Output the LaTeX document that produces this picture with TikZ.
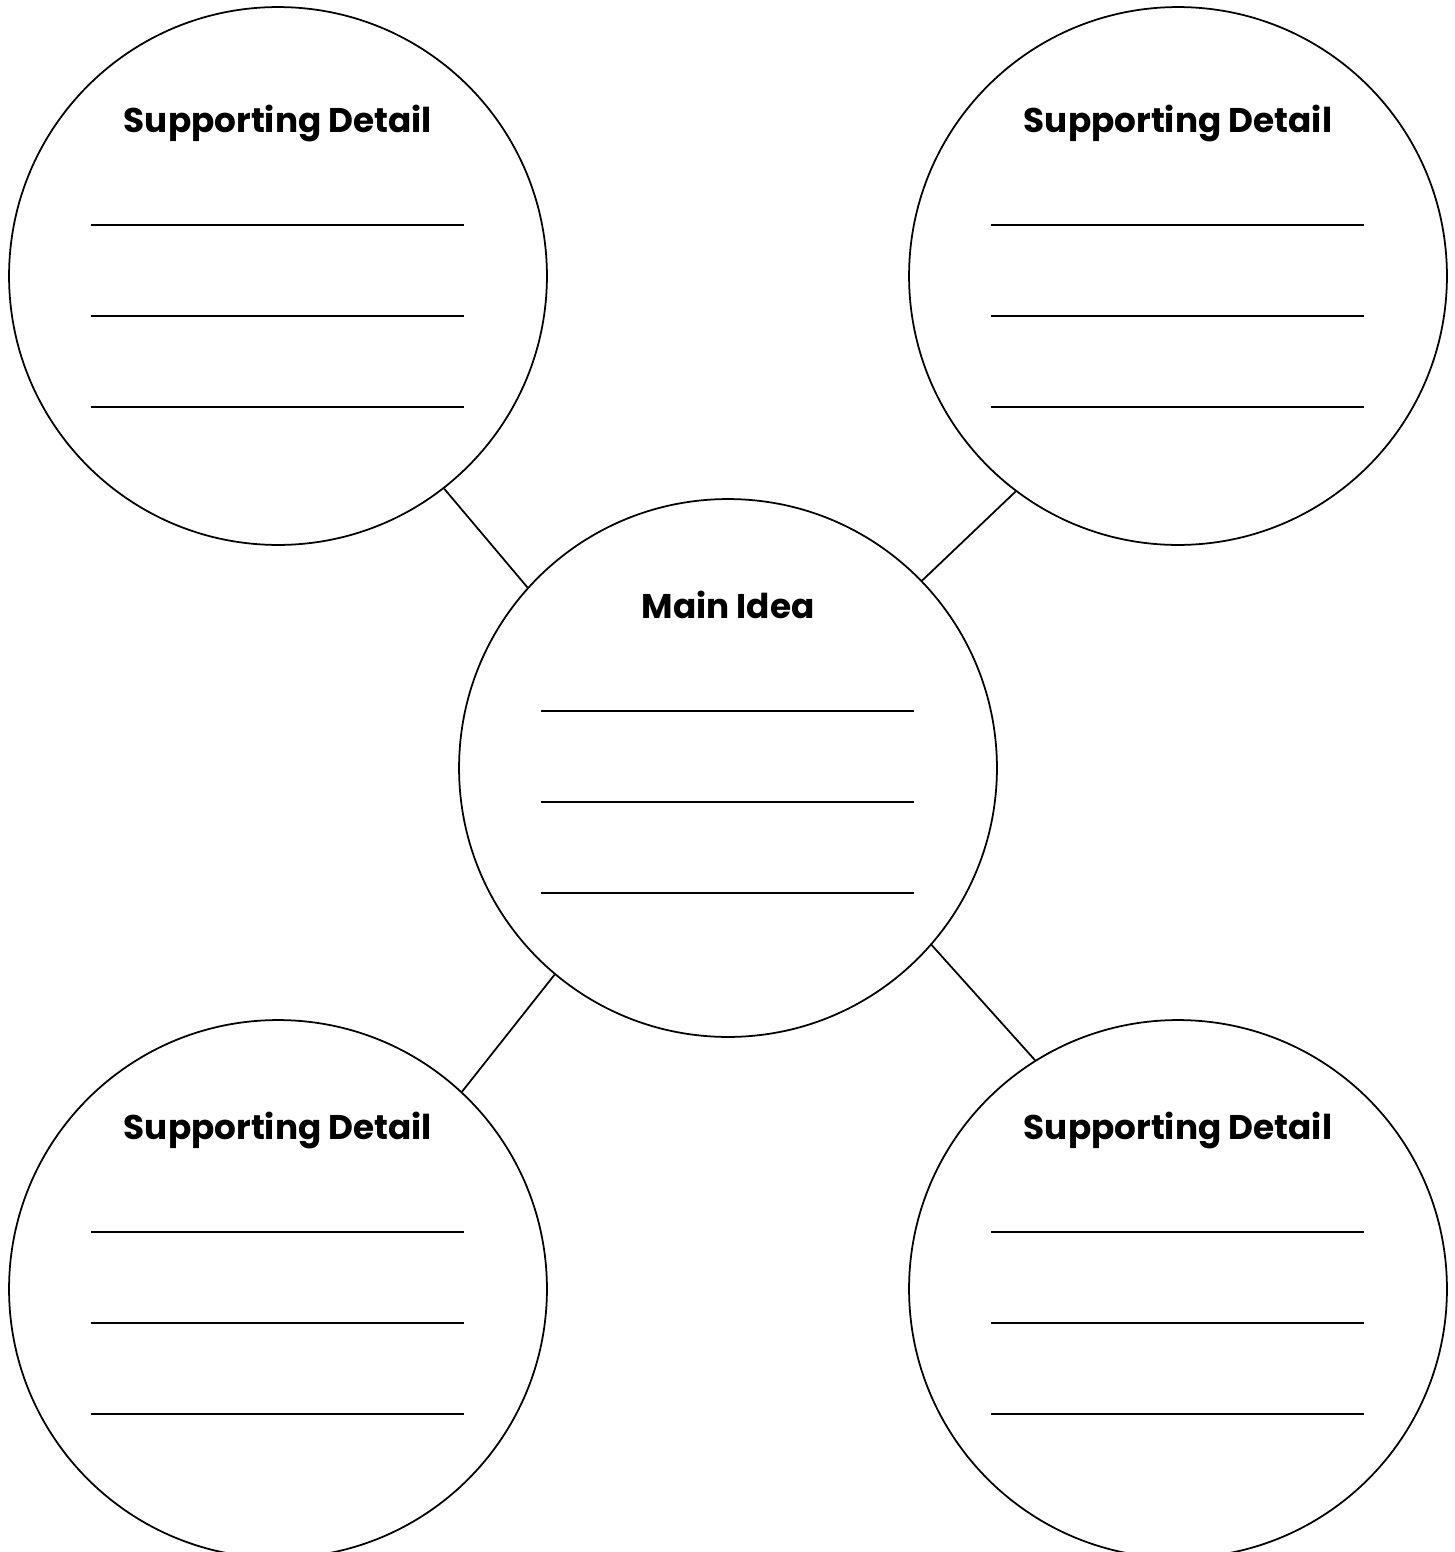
\documentclass[tikz,border=0pt]{standalone}
\usepackage{fontspec}
\setmainfont{Poppins}
\usetikzlibrary{positioning}
\tikzset{%
	bubble/.style={draw, circle, minimum size=10.76cm, inner sep=0mm, line width=1pt},
	heading/.style={anchor=base, font=\fontsize{19.5}{23}\selectfont\bfseries},
	blank/.style={line width=1.2pt},
	connector/.style={line width=1pt}
}

\begin{document}
\begin{tikzpicture}[x=0.02cm, y=-0.02cm]
	\useasboundingbox (0,0) rectangle (1454,1552);

	\node[bubble] (main) at (728,768) {};
	\node[bubble] (tl) at (278,276) {};
	\node[bubble] (tr) at (1178,276) {};
	\node[bubble] (bl) at (278,1289) {};
	\node[bubble] (br) at (1178,1289) {};

	\draw[connector] (tl.-52) to (main.138);
	\draw[connector] (tr.-127.6) to (main.44.4);
	\draw[connector] (bl.47.4) to (main.230);
	\draw[connector] (br.122.6) to (main.-41.2);

	% headings and blank lines
	\foreach \c/\dy/\txt in {tl/6/Supporting Detail, tr/6/Supporting Detail,
		bl/0/Supporting Detail, br/0/Supporting Detail, main/0/Main Idea} {
		\node[heading] (\c-head) at ([shift={(0,-150+\dy)}]\c.center) {\txt};
		\foreach \d in {-57,34,125}
			\draw[blank] ([shift={(-187,\d+\dy)}]\c.center) -- ++(373,0);
	}
\end{tikzpicture}
\end{document}
